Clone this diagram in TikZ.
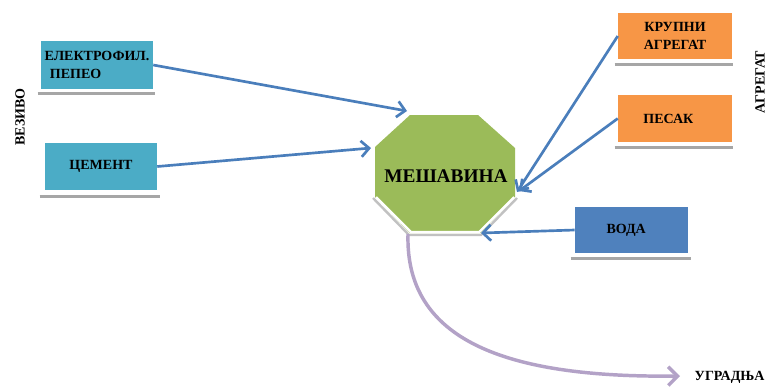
\documentclass[tikz,border=0pt]{standalone}
\usepackage{fontspec}
\setmainfont{Liberation Serif}
\usetikzlibrary{arrows.meta,calc}
\definecolor{tealc}{HTML}{4BACC6}
\definecolor{orangec}{HTML}{F79646}
\definecolor{bluec}{HTML}{4F81BD}
\definecolor{greenc}{HTML}{9BBB59}
\definecolor{arrowc}{HTML}{4A7EBB}
\definecolor{purplec}{HTML}{B3A2C7}
\definecolor{grayc}{HTML}{A6A6A6}
\tikzset{
  lbl/.style={font=\fontsize{10.5}{13}\selectfont\bfseries, text=black},
  boxstyle/.style={draw=none, inner sep=0pt, lbl},
  uline/.style={grayc, line width=2.1pt},
  inarrow/.style={arrowc, line width=2pt, -{Straight Barb[length=6pt,width=12pt,line width=2pt]}},
  outarrow/.style={purplec, line width=2.6pt, -{Straight Barb[length=7pt,width=14pt,line width=2.6pt]}}
}
\begin{document}
\begin{tikzpicture}[x=0.75pt,y=-0.75pt]
\useasboundingbox (0,0) rectangle (766,387);
% boxes
\node[boxstyle, fill=tealc, minimum width=84pt, minimum height=36pt, align=left] (b1) at (97,65) {ЕЛЕКТРОФИЛ.\\\hspace{4pt}ПЕПЕО};
\node[boxstyle, fill=tealc, minimum width=84pt, minimum height=35pt] (b2) at (101,166.5) {ЦЕМЕНТ};
\node[boxstyle, fill=orangec, minimum width=85.5pt, minimum height=34.5pt, align=center] (b3) at (675,36) {КРУПНИ\\АГРЕГАТ};
\node[boxstyle, fill=orangec, minimum width=85.5pt, minimum height=35pt] (b4) at (675,118.5) {\hspace{-10pt}ПЕСАК};
\node[boxstyle, fill=bluec, minimum width=85pt, minimum height=34.5pt] (b5) at (631.5,230) {\hspace{-8pt}ВОДА};
% underlines
\draw[uline] ($(b1.south west)+(-3,4)$) coordinate (u1a) -- ($(b1.south east)+(2,4)$) coordinate (u1b);
\draw[uline] ($(b2.south west)+(-5,6)$) coordinate (u2a) -- ($(b2.south east)+(3,6)$) coordinate (u2b);
\draw[uline] ($(b3.south west)+(-3,5)$) coordinate (u3a) -- ($(b3.south east)+(1,5)$) coordinate (u3b);
\draw[uline] ($(b4.south west)+(-3,5)$) coordinate (u4a) -- ($(b4.south east)+(1,5)$) coordinate (u4b);
\draw[uline] ($(b5.south west)+(-4,5)$) coordinate (u5a) -- ($(b5.south east)+(3,5)$) coordinate (u5b);
% side labels
\node[lbl, rotate=90] (vez) at (20,117) {ВЕЗИВО};
\node[lbl, rotate=90] (agr) at (760,82) {АГРЕГАТ};
% octagon
\coordinate (o1) at (410,115);
\coordinate (o2) at (478,115);
\coordinate (o3) at (515,148);
\coordinate (o4) at (515,197);
\coordinate (o5) at (480,233);
\coordinate (o6) at (410,233);
\coordinate (o7) at (375,197);
\coordinate (o8) at (375,147);
\fill[greenc] (o1) -- (o2) -- (o3) -- (o4) -- (o5) -- (o6) -- (o7) -- (o8) -- cycle;
\draw[grayc!70, line width=1.8pt] ($(o7)+(-2,1)$) -- ($(o6)+(-1,2)$) -- ($(o5)+(1,2)$) -- ($(o4)+(2,1)$);
\draw[white, line width=1.6pt] ($(o7)+(1,0)$) -- ($(o6)+(1,-1)$) -- ($(o5)+(-1,-1)$) -- ($(o4)+(-1,0)$);
\node[font=\fontsize{14.5}{17}\selectfont\bfseries] (mix) at (446,176) {МЕШАВИНА};
% arrow targets
\coordinate (t1) at (407,111);
\coordinate (t2) at (371,148);
\coordinate (t3) at (517,192);
\coordinate (t4) at (519,191);
\coordinate (t5) at (481,233);
\coordinate (s6) at (408,234);
% arrows
\draw[inarrow] (b1.east) -- (t1);
\draw[inarrow] (b2.east) -- (t2);
\draw[inarrow] (b3.west) -- (t3);
\draw[inarrow] (b4.west) -- (t4);
\draw[inarrow] (b5.west) -- (t5);
% output
\node[lbl, anchor=west] (ugr) at (690,377) {УГРАДЊА};
\draw[outarrow] (s6) .. controls (405,340) and (505,378) .. ($(ugr.west)+(-10,-1)$);
\end{tikzpicture}
\end{document}
